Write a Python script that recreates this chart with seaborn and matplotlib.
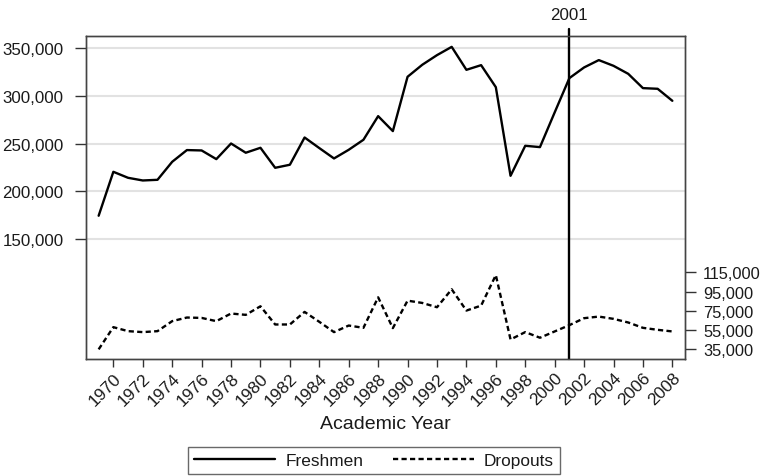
import matplotlib
matplotlib.use("Agg")
import matplotlib.pyplot as plt
import seaborn as sns
import pandas as pd
from matplotlib.lines import Line2D
from matplotlib.transforms import blended_transform_factory

# Academic years and enrolment series
years = list(range(1969, 2009))
freshmen = [
    174500, 220600, 214300, 211500, 212200, 231100, 243400, 243000, 233900, 250300,
    240600, 245800, 224800, 228000, 256600, 245500, 234600, 243700, 254200, 279000,
    263300, 320300, 332900, 343000, 351700, 327600, 332500, 309400, 216400, 247900,
    246500, 282900, 318900, 330100, 337800, 331800, 323400, 308400, 307700, 295100,
]
dropouts = [
    34300, 57600, 53400, 52400, 53400, 63900, 67700, 67300, 63900, 71900,
    70500, 79500, 60400, 60400, 73600, 63200, 52400, 59300, 56900, 88900,
    56600, 85400, 83000, 78500, 97300, 75000, 80200, 112200, 44700, 52400,
    46500, 53100, 59700, 67000, 68700, 66300, 62500, 56900, 54800, 53100,
]
series_names = ["Freshmen", "Dropouts"]
cutoff_year = 2001
left_ticks = [150000, 200000, 250000, 300000, 350000]
right_ticks = [35000, 55000, 75000, 95000, 115000]
x_ticks = list(range(1970, 2009, 2))

df = pd.DataFrame({
    "year": years * 2,
    "count": freshmen + dropouts,
    "series": [series_names[0]] * len(years) + [series_names[1]] * len(years),
})

sns.set_style("ticks")
plt.rcParams["font.family"] = ["Liberation Sans", "DejaVu Sans"]
plt.rcParams["text.color"] = "#1a1a1a"
plt.rcParams["axes.labelcolor"] = "#1a1a1a"
plt.rcParams["xtick.color"] = "#333333"
plt.rcParams["ytick.color"] = "#333333"
plt.rcParams["xtick.labelcolor"] = "#1a1a1a"
plt.rcParams["ytick.labelcolor"] = "#1a1a1a"

W, H = 763, 477
fig = plt.figure(figsize=(W / 100, H / 100), dpi=100)
ax = fig.add_axes([85.7 / W, 1 - 359.7 / H, (685 - 85.7) / W, (359.7 - 36.7) / H])

dash = (0, (2.2, 1.4))
sns.lineplot(data=df, x="year", y="count", hue="series", style="series",
             palette={"Freshmen": "black", "Dropouts": "black"},
             dashes={"Freshmen": "", "Dropouts": dash[1]},
             linewidth=1.7, legend=False, ax=ax)

ylim = (24500, 363400)
ax.set_xlim(1968.12, 2008.86)
ax.set_ylim(*ylim)

ax.set_yticks(left_ticks)
ax.set_yticklabels([f"{v:,}" for v in left_ticks], fontsize=12.2)
ax.yaxis.grid(True, color="#e2e2e2", linewidth=1.5)
ax.set_axisbelow(True)

ax.set_xticks(x_ticks)
ax.set_xticklabels([str(y) for y in x_ticks], fontsize=12.4, rotation=45,
                   ha="right", va="top", rotation_mode="anchor")
ax.tick_params(axis="x", length=6, width=1, pad=2)
ax.tick_params(axis="y", length=8, width=1, pad=8)
ax.set_xlabel("Academic Year", fontsize=14, labelpad=5)
ax.set_ylabel("")

for sp in ax.spines.values():
    sp.set_visible(True)
    sp.set_color("#444444")
    sp.set_linewidth(1.0)

# Secondary scale for the dropout series (same range)
ax2 = ax.twinx()
ax2.set_ylim(*ylim)
ax2.set_yticks(right_ticks)
ax2.set_yticklabels([f"{v:,}" for v in right_ticks], fontsize=11.8)
ax2.tick_params(axis="y", length=8, width=1, pad=5)
for sp in ax2.spines.values():
    sp.set_color("#444444")
    sp.set_linewidth(1.0)

# Reference year marker
ax.axvline(cutoff_year, ymin=0, ymax=1 + 7 / 323, color="black",
           linewidth=1.7, clip_on=False, zorder=5)
trans = blended_transform_factory(ax.transData, fig.transFigure)
ax.text(cutoff_year, 1 - 15 / H, str(cutoff_year), transform=trans,
        ha="center", va="center", fontsize=12.2)

handles = [
    Line2D([], [], color="black", linewidth=1.7),
    Line2D([], [], color="black", linewidth=1.7, linestyle=dash),
]
leg = fig.legend(handles, series_names, loc="upper center", ncol=2,
                 bbox_to_anchor=(374 / W, 1 - 448 / H), borderaxespad=0,
                 fontsize=12.4, frameon=True, fancybox=False,
                 edgecolor="#444444", handlelength=4.7, handletextpad=0.6,
                 columnspacing=1.7, borderpad=0.35)
leg.get_frame().set_linewidth(1.0)

fig.savefig("out.png", dpi=100)
